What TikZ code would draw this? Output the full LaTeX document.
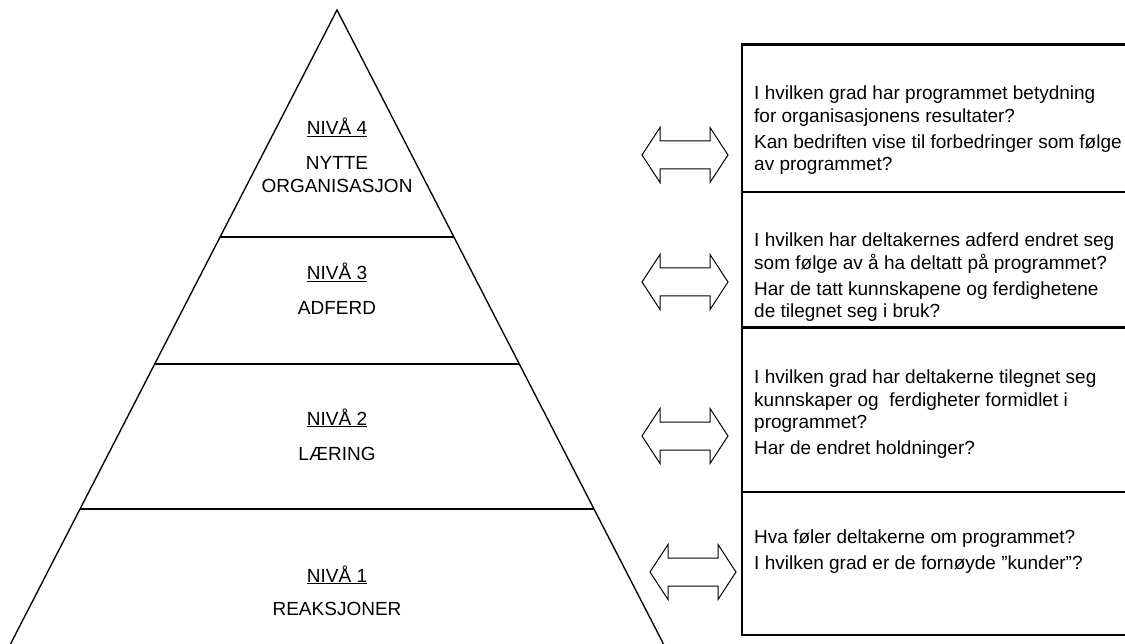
\documentclass[tikz,border=0pt]{standalone}
\usepackage{fontspec}
\setmainfont{Liberation Sans}
\usetikzlibrary{calc}
\begin{document}
\begin{tikzpicture}[x=1pt,y=-1pt,
  pyr/.style={line width=1.35pt, line join=miter},
  boxline/.style={line width=2.2pt},
  lbl/.style={font=\fontsize{19}{22.5}\selectfont, inner sep=0pt, anchor=base},
  qtext/.style={font=\fontsize{19}{22.5}\selectfont, inner sep=0pt, anchor=north west, align=left},
  dblarrow/.pic={\draw[line width=1pt, line join=miter] (-43,0) -- (-25,-27.5) -- (-25,-14) -- (25,-14) -- (25,-27.5) -- (43,0) -- (25,27.5) -- (25,14) -- (-25,14) -- (-25,27.5) -- cycle;}
]
\fill[white] (0,0) rectangle (1125,644);
\useasboundingbox (0,0) rectangle (1125,644);

% pyramid
\coordinate (apex) at (337,10);
\coordinate (bl) at (10.5,644);
\coordinate (br) at (663.5,644);
\draw[pyr] (bl) -- (apex) -- (br);
\draw[pyr] ($(apex)!0.358!(bl)$) -- ($(apex)!0.358!(br)$);
\draw[pyr] ($(apex)!0.5584!(bl)$) -- ($(apex)!0.5584!(br)$);
\draw[pyr] ($(apex)!0.787!(bl)$) -- ($(apex)!0.787!(br)$);

\node[lbl] (n4) at (337,135) {\underline{NIVÅ 4}};
\node[lbl] (n4a) at (337,170) {NYTTE};
\node[lbl] (n4b) at (337,193) {ORGANISASJON};
\node[lbl] (n3) at (337,280) {\underline{NIVÅ 3}};
\node[lbl] (n3a) at (337,315) {ADFERD};
\node[lbl] (n2) at (337,425) {\underline{NIVÅ 2}};
\node[lbl] (n2a) at (337,460) {LÆRING};
\node[lbl] (n1) at (337,582) {\underline{NIVÅ 1}};
\node[lbl] (n1a) at (337,615) {REAKSJONER};

% boxes
\draw[boxline] (1127,44.5) -- (742,44.5) -- (742,635) -- (1127,635);
\draw[boxline] (742,192) -- (1127,192);
\draw[boxline] (742,327.5) -- (1127,327.5);
\draw[boxline] (742,492) -- (1127,492);

% arrows
\pic at (685,155) {dblarrow};
\pic at (685,282) {dblarrow};
\pic at (685,436) {dblarrow};
\pic at (693,572) {dblarrow};

% questions
\node[qtext] (q4) at (754,86) {I hvilken grad har programmet betydning\\ for organisasjonens resultater?\\[3.5pt] Kan bedriften vise til forbedringer som følge\\ av programmet?};
\node[qtext] (q3) at (754,233) {I hvilken har deltakernes adferd endret seg\\ som følge av å ha deltatt på programmet?\\[3.5pt] Har de tatt kunnskapene og ferdighetene\\ de tilegnet seg i bruk?};
\node[qtext] (q2) at (754,370) {I hvilken grad har deltakerne tilegnet seg\\ kunnskaper og~~ferdigheter formidlet i\\ programmet?\\[3.5pt] Har de endret holdninger?};
\node[qtext] (q1) at (754,530) {Hva føler deltakerne om programmet?\\[3pt] I hvilken grad er de fornøyde ”kunder”?};
\end{tikzpicture}
\end{document}
